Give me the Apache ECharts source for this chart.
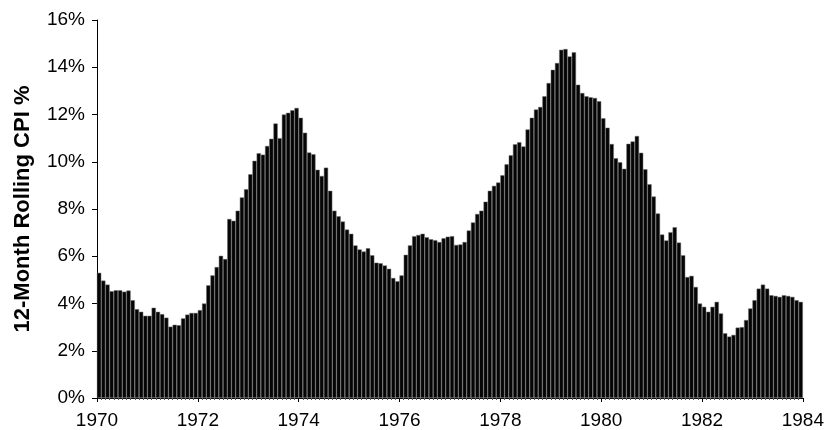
<!DOCTYPE html>
<html>
<head>
<meta charset="utf-8">
<title>12-Month Rolling CPI</title>
<script src="https://cdn.jsdelivr.net/npm/echarts@6/dist/echarts.min.js"></script>
<style>
  html, body { margin: 0; padding: 0; background: #fff; }
  #chart { width: 827px; height: 430px; }
</style>
</head>
<body>
<div id="chart"></div>
<script>
// monthly 12-month rolling CPI (%), Jan 1970 .. Dec 1983
var startYear = 1970
var cpi1970 = [5.3, 4.97, 4.8, 4.52, 4.56, 4.56, 4.5, 4.55, 4.14, 3.76, 3.65, 3.48]
var cpi1971 = [3.48, 3.82, 3.65, 3.55, 3.4, 3.02, 3.1, 3.08, 3.37, 3.53, 3.6, 3.6]
var cpi1972 = [3.72, 4.0, 4.77, 5.19, 5.54, 6.02, 5.88, 7.58, 7.5, 7.93, 8.49, 8.84]
var cpi1973 = [9.47, 10.04, 10.36, 10.3, 10.67, 10.97, 11.62, 11.0, 12.0, 12.07, 12.18, 12.28]
var cpi1974 = [11.86, 11.23, 10.39, 10.32, 9.66, 9.4, 9.75, 8.77, 7.93, 7.69, 7.47, 7.13]
var cpi1975 = [6.95, 6.46, 6.29, 6.2, 6.34, 6.04, 5.73, 5.7, 5.61, 5.47, 5.08, 4.94]
var cpi1976 = [5.19, 6.06, 6.46, 6.85, 6.9, 6.95, 6.8, 6.72, 6.68, 6.6, 6.76, 6.83]
var cpi1977 = [6.85, 6.48, 6.5, 6.6, 7.09, 7.43, 7.79, 7.93, 8.31, 8.77, 8.98, 9.12]
var cpi1978 = [9.43, 9.89, 10.27, 10.74, 10.83, 10.65, 11.37, 11.86, 12.21, 12.32, 12.77, 13.33]
var cpi1979 = [13.89, 14.18, 14.74, 14.77, 14.46, 14.63, 13.26, 12.91, 12.77, 12.73, 12.7, 12.56]
var cpi1980 = [11.84, 11.44, 10.75, 10.15, 9.98, 9.7, 10.76, 10.86, 11.09, 10.38, 9.68, 9.05]
var cpi1981 = [8.53, 7.81, 6.92, 6.67, 7.02, 7.23, 6.58, 6.04, 5.12, 5.17, 4.7, 4.0]
var cpi1982 = [3.86, 3.65, 3.86, 4.07, 3.58, 2.74, 2.6, 2.67, 2.98, 3.0, 3.3, 3.79]
var cpi1983 = [4.14, 4.63, 4.8, 4.63, 4.35, 4.32, 4.28, 4.35, 4.32, 4.28, 4.14, 4.07]

var yearTicks = [1970, 1972, 1974, 1976, 1978, 1980, 1982, 1984]
var pctTicks = [0, 2, 4, 6, 8, 10, 12, 14, 16]

var monthly = [].concat(cpi1970, cpi1971, cpi1972, cpi1973, cpi1974, cpi1975, cpi1976,
  cpi1977, cpi1978, cpi1979, cpi1980, cpi1981, cpi1982, cpi1983)

// each bar sits in the middle of its month
var barData = monthly.map(function (v, i) {
  return [startYear + (i + 0.5) / 12, v]
})

var gridLeft = 97
var gridRight = 17
var chart = echarts.init(document.getElementById('chart'))
var font = 'Liberation Sans, Arial, sans-serif'

chart.setOption({
  animation: false,
  grid: {
    left: gridLeft,
    right: gridRight,
    top: 20,
    bottom: 30
  },
  xAxis: {
    type: 'value',
    min: yearTicks[0],
    max: yearTicks[yearTicks.length - 1],
    interval: 2,
    axisLine: { lineStyle: { color: '#000', width: 1 } },
    axisTick: { show: true, length: 4, lineStyle: { color: '#000' } },
    minorTick: { show: true, splitNumber: 24, length: 2, lineStyle: { color: '#555' } },
    splitLine: { show: false },
    axisLabel: {
      color: '#000',
      fontFamily: font,
      fontSize: 19,
      margin: 13,
      formatter: function (v) { return String(v) }
    }
  },
  yAxis: {
    type: 'value',
    min: pctTicks[0],
    max: pctTicks[pctTicks.length - 1],
    interval: 2,
    name: '12-Month Rolling CPI %',
    nameLocation: 'middle',
    nameGap: 63,
    nameTextStyle: {
      color: '#000',
      fontFamily: font,
      fontSize: 22,
      fontWeight: 'bold'
    },
    axisLine: { show: true, lineStyle: { color: '#000', width: 1 } },
    axisTick: { show: true, length: 5, lineStyle: { color: '#000' } },
    splitLine: { show: false },
    axisLabel: {
      color: '#000',
      fontFamily: font,
      fontSize: 19,
      margin: 12,
      formatter: '{value}%'
    }
  },
  series: [{
    type: 'bar',
    data: barData,
    barWidth: (827 - gridLeft - gridRight) / monthly.length,
    itemStyle: {
      color: '#050505',
      borderColor: '#707070',
      borderWidth: 0.5
    }
  }]
})
</script>
</body>
</html>
